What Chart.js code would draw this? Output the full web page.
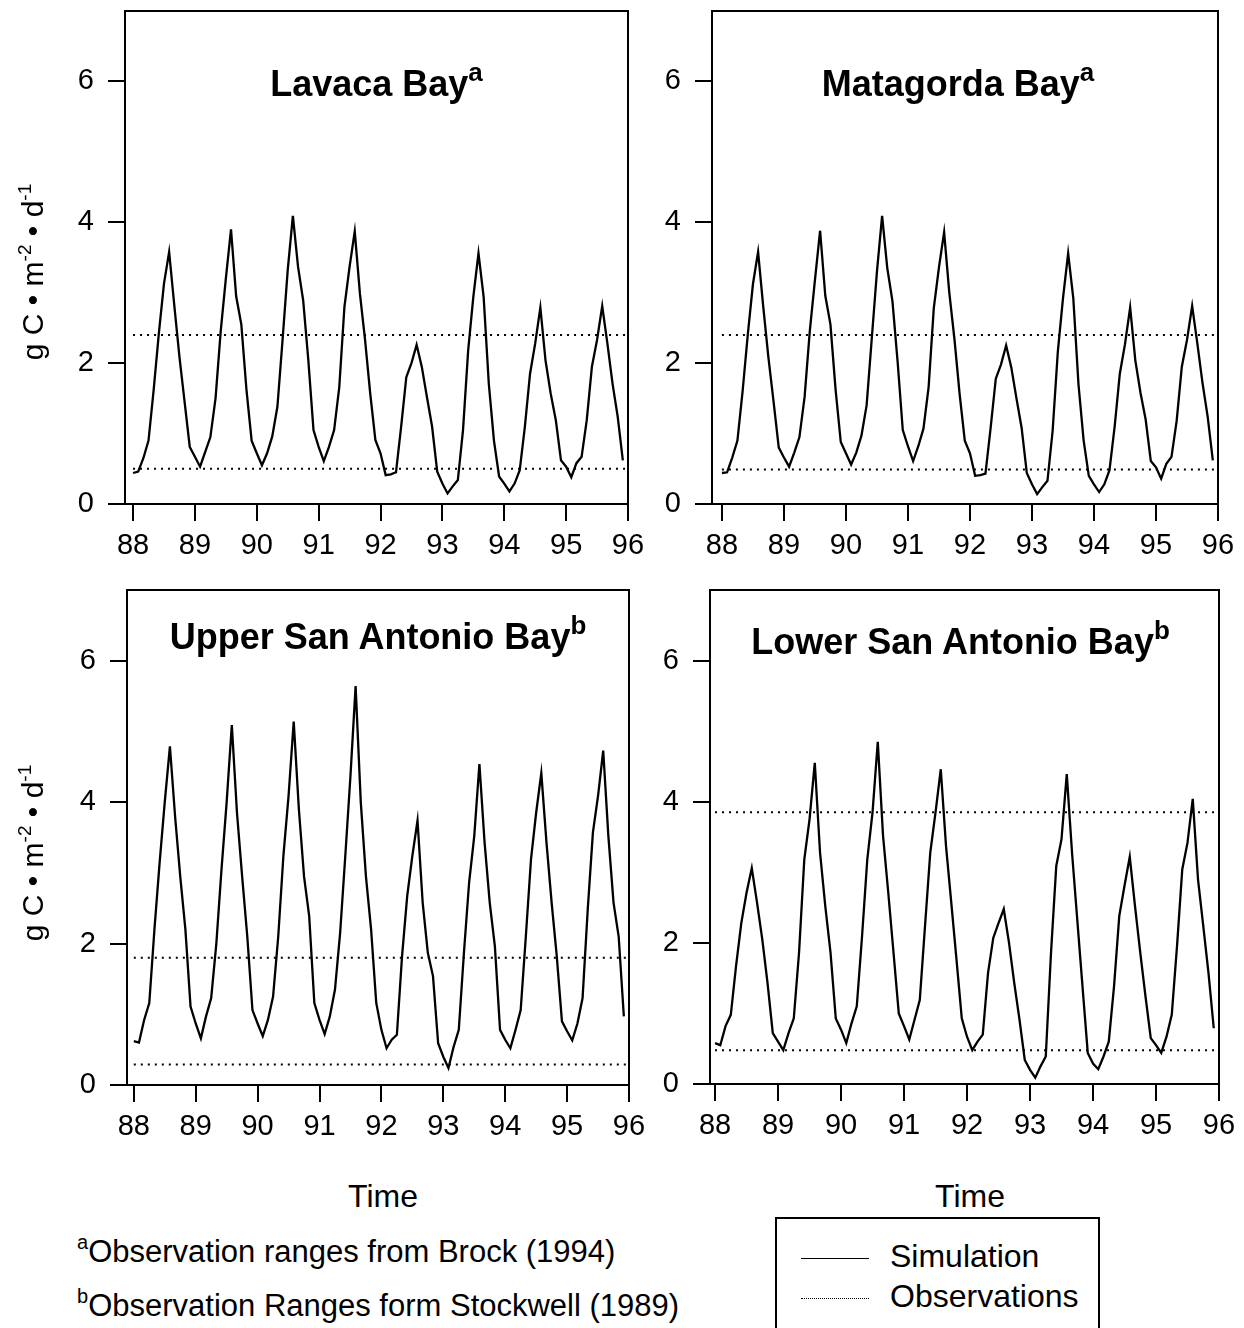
<!DOCTYPE html>
<html>
<head>
<meta charset="utf-8">
<script src="https://cdn.jsdelivr.net/npm/chart.js@4.4.1/dist/chart.umd.min.js"></script>
<style>
  body { margin: 0; background: #fff; }
  #page { position: relative; width: 1244px; height: 1328px; overflow: hidden;
          font-family: "Liberation Sans", Arial, sans-serif; color: #000; }
  canvas { position: absolute; }
  .ttl { position: absolute; font-weight: bold; font-size: 36px; line-height: 1;
         text-align: center; white-space: nowrap; }
  .ttl sup, .note sup, .ylab sup { vertical-align: baseline; position: relative; }
  .ttl sup { font-size: 26px; top: -15px; }
  .ylab { position: absolute; width: 320px; height: 36px; line-height: 36px; font-size: 30px;
          text-align: center; transform: rotate(-90deg); white-space: nowrap; }
  .ylab sup { font-size: 19px; top: -12px; }
  .time { position: absolute; font-size: 32px; line-height: 1; width: 200px; text-align: center; }
  .note { position: absolute; left: 77px; font-size: 31px; line-height: 1; white-space: nowrap; }
  .note sup { font-size: 20px; top: -13px; }
  #legend { position: absolute; left: 775px; top: 1217px; width: 325px; height: 130px;
            border: 2px solid #000; box-sizing: border-box; }
  .leg { position: absolute; left: 0; font-size: 32px; line-height: 1; white-space: nowrap; }
  .leg span { display: inline-block; width: 68px; margin: 0 21px 0 24px; vertical-align: middle; }
</style>
</head>
<body>
<div id="page">
  <canvas id="c1" width="660" height="580" style="left:0;top:0"></canvas>
  <canvas id="c2" width="604" height="580" style="left:640px;top:0"></canvas>
  <canvas id="c3" width="660" height="580" style="left:0;top:580px"></canvas>
  <canvas id="c4" width="604" height="580" style="left:640px;top:580px"></canvas>

  <div class="ttl" style="left:125px;width:503px;top:66px">Lavaca Bay<sup>a</sup></div>
  <div class="ttl" style="left:705px;width:506px;top:66px">Matagorda Bay<sup>a</sup></div>
  <div class="ttl" style="left:127px;width:502px;top:619px">Upper San Antonio Bay<sup>b</sup></div>
  <div class="ttl" style="left:706px;width:509px;top:624px">Lower San Antonio Bay<sup>b</sup></div>

  <div class="ylab" style="left:-127px;top:254px">g C • m<sup>-2</sup> • d<sup>-1</sup></div>
  <div class="ylab" style="left:-127px;top:835px">g C • m<sup>-2</sup> • d<sup>-1</sup></div>

  <div class="time" style="left:283px;top:1180px">Time</div>
  <div class="time" style="left:870px;top:1180px">Time</div>

  <div class="note" style="top:1236px"><sup>a</sup>Observation ranges from Brock (1994)</div>
  <div class="note" style="top:1290px"><sup>b</sup>Observation Ranges form Stockwell (1989)</div>

  <div id="legend">
    <div class="leg" style="top:21px"><span style="border-top:1.5px solid #000"></span>Simulation</div>
    <div class="leg" style="top:61px"><span style="border-top:1.5px dotted #000"></span>Observations</div>
  </div>
</div>

<script>
// monthly model output, Jan 1988 .. Dec 1995
const months = Array.from({ length: 96 }, (_, i) => 88 + i / 12);
const yearTicks = [88, 89, 90, 91, 92, 93, 94, 95, 96];
const valueTicks = [0, 2, 4, 6];

const lavacaSim = [
  0.44, 0.46, 0.65, 0.90, 1.62, 2.42, 3.13, 3.58, 2.82, 2.09, 1.45, 0.81,
  0.67, 0.53, 0.74, 0.95, 1.50, 2.45, 3.20, 3.90, 2.95, 2.55, 1.62, 0.90,
  0.72, 0.55, 0.72, 0.96, 1.38, 2.33, 3.32, 4.09, 3.37, 2.89, 2.04, 1.05,
  0.81, 0.61, 0.81, 1.05, 1.66, 2.80, 3.37, 3.87, 2.99, 2.33, 1.57, 0.91,
  0.72, 0.41, 0.42, 0.45, 1.10, 1.80, 2.00, 2.26, 1.95, 1.52, 1.10, 0.46,
  0.29, 0.15, 0.25, 0.34, 1.05, 2.18, 2.94, 3.56, 2.94, 1.71, 0.90, 0.39,
  0.29, 0.18, 0.29, 0.48, 1.10, 1.85, 2.28, 2.79, 2.04, 1.57, 1.19, 0.62,
  0.53, 0.38, 0.58, 0.67, 1.19, 1.95, 2.33, 2.81, 2.28, 1.71, 1.24, 0.62
];
const matagordaSim = [
  0.44, 0.45, 0.66, 0.90, 1.60, 2.40, 3.12, 3.58, 2.80, 2.08, 1.45, 0.80,
  0.66, 0.53, 0.73, 0.95, 1.52, 2.45, 3.18, 3.88, 2.96, 2.55, 1.62, 0.88,
  0.72, 0.56, 0.73, 0.97, 1.40, 2.35, 3.30, 4.09, 3.35, 2.88, 2.02, 1.05,
  0.82, 0.61, 0.82, 1.07, 1.66, 2.78, 3.36, 3.86, 3.00, 2.34, 1.56, 0.90,
  0.72, 0.40, 0.41, 0.43, 1.08, 1.78, 1.98, 2.25, 1.94, 1.50, 1.08, 0.44,
  0.28, 0.14, 0.24, 0.33, 1.04, 2.16, 2.92, 3.56, 2.92, 1.70, 0.90, 0.40,
  0.28, 0.17, 0.28, 0.48, 1.10, 1.85, 2.27, 2.79, 2.04, 1.58, 1.20, 0.61,
  0.52, 0.36, 0.57, 0.67, 1.18, 1.95, 2.33, 2.81, 2.28, 1.72, 1.24, 0.62
];
const upperSim = [
  0.62, 0.60, 0.92, 1.16, 2.20, 3.14, 4.00, 4.79, 3.80, 2.95, 2.20, 1.11,
  0.87, 0.66, 0.97, 1.23, 2.00, 3.05, 4.00, 5.09, 3.85, 2.95, 2.10, 1.06,
  0.87, 0.69, 0.92, 1.25, 2.10, 3.24, 4.09, 5.14, 3.90, 2.95, 2.39, 1.16,
  0.92, 0.72, 0.97, 1.35, 2.15, 3.24, 4.37, 5.64, 4.00, 2.95, 2.20, 1.16,
  0.78, 0.52, 0.64, 0.71, 1.82, 2.67, 3.24, 3.74, 2.58, 1.87, 1.54, 0.59,
  0.40, 0.24, 0.54, 0.78, 1.87, 2.86, 3.52, 4.54, 3.43, 2.58, 1.96, 0.78,
  0.64, 0.52, 0.78, 1.06, 2.10, 3.19, 3.85, 4.41, 3.43, 2.58, 1.82, 0.90,
  0.76, 0.63, 0.87, 1.23, 2.48, 3.57, 4.09, 4.73, 3.52, 2.58, 2.10, 0.97
];
const lowerSim = [
  0.58, 0.55, 0.82, 0.98, 1.67, 2.28, 2.71, 3.06, 2.57, 2.05, 1.43, 0.72,
  0.60, 0.48, 0.72, 0.93, 1.86, 3.18, 3.75, 4.55, 3.28, 2.52, 1.86, 0.93,
  0.77, 0.58, 0.86, 1.10, 2.09, 3.18, 3.85, 4.85, 3.52, 2.71, 1.86, 1.00,
  0.82, 0.63, 0.91, 1.19, 2.24, 3.28, 3.85, 4.46, 3.37, 2.57, 1.76, 0.93,
  0.67, 0.48, 0.60, 0.70, 1.57, 2.07, 2.28, 2.48, 2.00, 1.43, 0.91, 0.34,
  0.20, 0.09, 0.25, 0.39, 1.86, 3.09, 3.47, 4.39, 3.28, 2.33, 1.38, 0.44,
  0.29, 0.21, 0.39, 0.60, 1.38, 2.38, 2.81, 3.22, 2.52, 1.86, 1.24, 0.65,
  0.55, 0.44, 0.67, 0.98, 1.95, 3.04, 3.42, 4.04, 2.90, 2.24, 1.57, 0.79
];

// observed range (low, high) per bay
const lavacaObs = [0.50, 2.40];
const matagordaObs = [0.49, 2.40];
const upperObs = [0.29, 1.80];
const lowerObs = [0.48, 3.85];

const font = { family: "'Liberation Sans', Arial, sans-serif", size: 29 };

// box round the plot area
const frame = {
  id: "frame",
  afterDatasetsDraw(chart) {
    const { ctx, chartArea: a } = chart;
    ctx.save();
    ctx.strokeStyle = "#000";
    ctx.lineWidth = 2;
    ctx.strokeRect(a.left, a.top, a.right - a.left, a.bottom - a.top);
    ctx.restore();
  }
};

function obsLine(v) {
  return {
    data: [{ x: 88, y: v }, { x: 96, y: v }],
    borderColor: "#000",
    borderWidth: 2,
    borderDash: [2, 5],
    pointRadius: 0
  };
}

function panel(id, sim, obs, box) {
  new Chart(document.getElementById(id), {
    type: "line",
    data: {
      datasets: [
        {
          data: months.map((t, i) => ({ x: t, y: sim[i] })),
          borderColor: "#000",
          borderWidth: 2.3,
          pointRadius: 0,
          tension: 0
        },
        obsLine(obs[1]),
        obsLine(obs[0])
      ]
    },
    options: {
      responsive: false,
      animation: false,
      layout: { padding: { top: box.top, right: box.right, left: 0, bottom: 0 } },
      plugins: { legend: { display: false }, tooltip: { enabled: false } },
      scales: {
        x: {
          type: "linear",
          min: box.xMin,
          max: 96,
          afterBuildTicks: s => { s.ticks = yearTicks.map(v => ({ value: v })); },
          afterFit: s => { s.height = box.xh; s.paddingLeft = 0; s.paddingRight = 0; },
          ticks: { font, color: "#000", padding: 8, maxRotation: 0, autoSkip: false },
          grid: { drawOnChartArea: false, tickLength: 17, color: "#000", lineWidth: 2 },
          border: { color: "#000", width: 2 }
        },
        y: {
          min: 0,
          max: 7,
          afterBuildTicks: s => { s.ticks = valueTicks.map(v => ({ value: v })); },
          afterFit: s => { s.width = box.yw; s.paddingTop = 0; s.paddingBottom = 0; },
          ticks: { font, color: "#000", padding: 14 },
          grid: { drawOnChartArea: false, tickLength: 17, color: "#000", lineWidth: 2 },
          border: { color: "#000", width: 2 }
        }
      }
    },
    plugins: [frame]
  });
}

panel("c1", lavacaSim, lavacaObs, { yw: 125, top: 11, right: 32, xh: 76, xMin: 87.87 });
panel("c2", matagordaSim, matagordaObs, { yw: 72, top: 11, right: 26, xh: 76, xMin: 87.84 });
panel("c3", upperSim, upperObs, { yw: 127, top: 10, right: 31, xh: 75, xMin: 87.89 });
panel("c4", lowerSim, lowerObs, { yw: 70, top: 10, right: 25, xh: 76, xMin: 87.92 });
</script>
</body>
</html>
